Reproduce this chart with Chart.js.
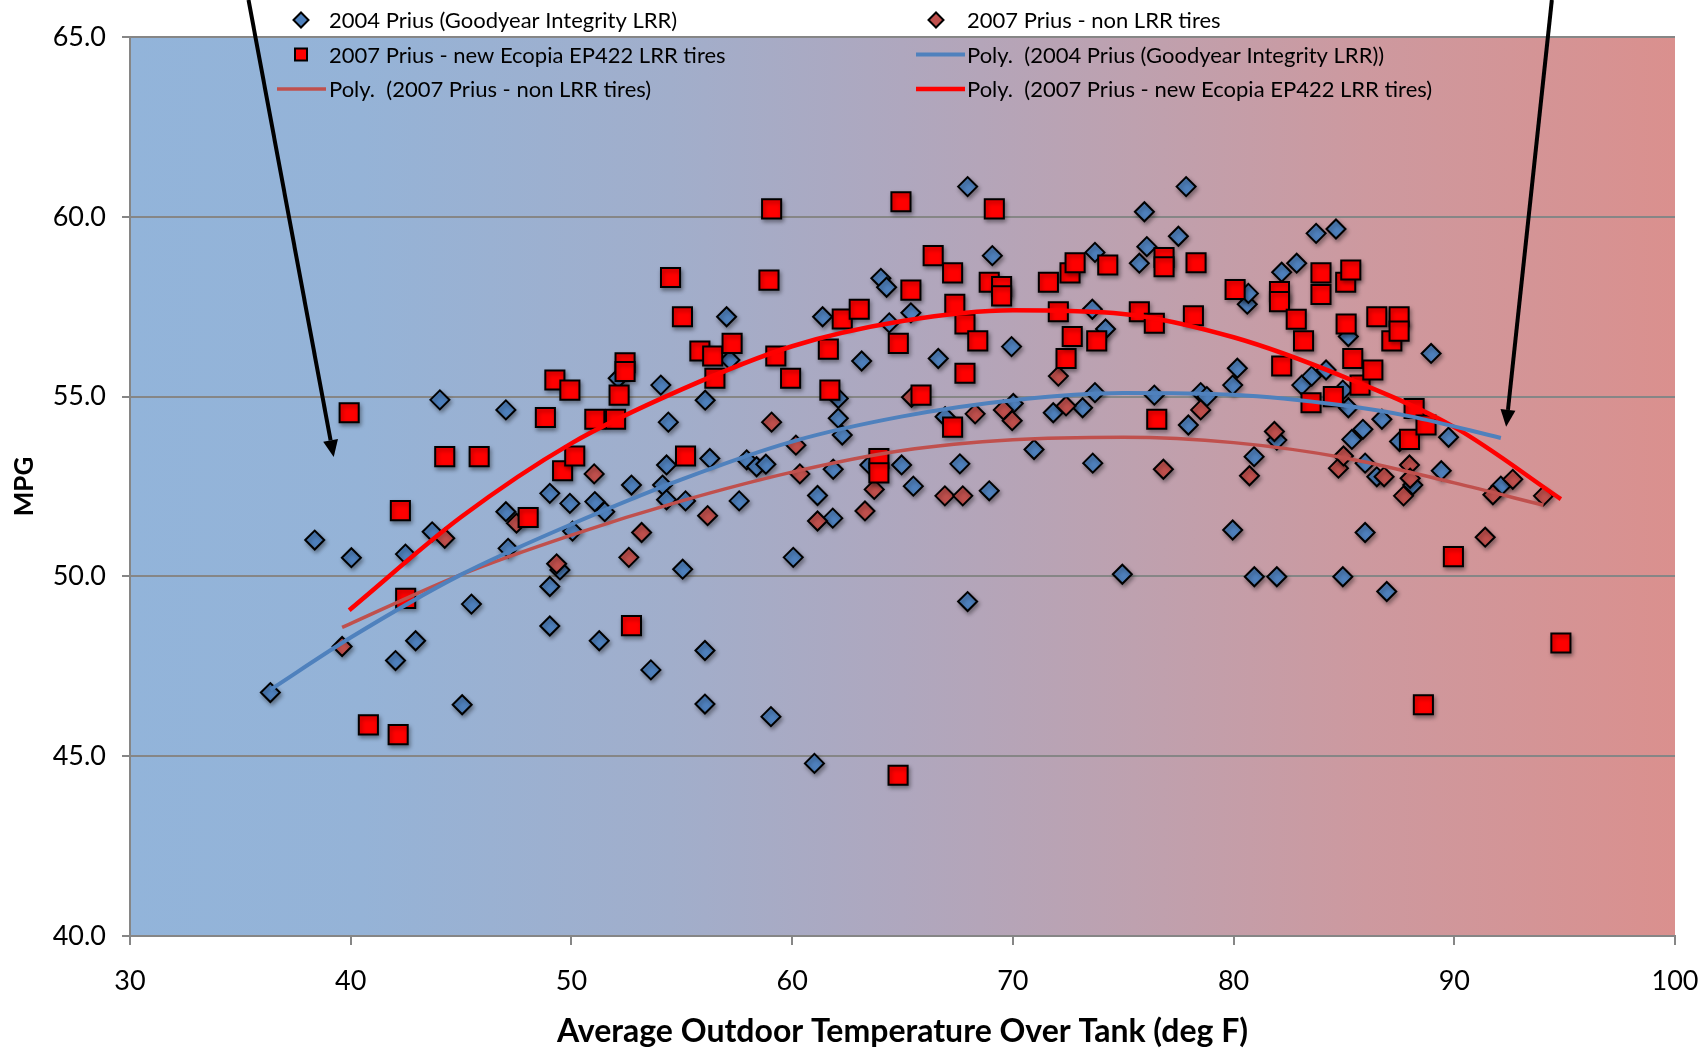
<!DOCTYPE html>
<html>
<head>
<meta charset="utf-8">
<script src="https://cdn.jsdelivr.net/npm/chart.js@4.4.1/dist/chart.umd.min.js"></script>
<style>
html,body{margin:0;padding:0;background:#fff;}
#wrap{width:1703px;height:1048px;position:relative;}
</style>
</head>
<body>
<div id="wrap"><canvas id="c"></canvas></div>
<script>
// ---------- DATA ----------
const seriesNames = [
  "2004 Prius (Goodyear Integrity LRR)",
  "2007 Prius - non LRR tires",
  "2007 Prius - new Ecopia EP422 LRR tires",
  "Poly.  (2004 Prius (Goodyear Integrity LRR))",
  "Poly.  (2007 Prius - non LRR tires)",
  "Poly.  (2007 Prius - new Ecopia EP422 LRR tires)"
];
const xTitle = "Average Outdoor Temperature Over Tank (deg F)";
const yTitle = "MPG";

const x2004 = [36.36,38.37,40.03,42.03,42.48,42.94,43.69,44.04,45.05,45.47,
  47.03,47.03,47.13,49.02,49.02,49.02,49.48,49.93,50.05,51.06,
  51.51,51.26,52.12,52.72,53.60,54.05,54.13,54.31,54.31,54.39,
  55.17,55.04,56.06,56.27,56.05,56.05,57.03,57.18,57.60,57.94,
  58.39,58.81,59.04,60.05,61.01,61.15,61.38,61.84,61.86,62.09,
  62.09,62.27,63.15,63.52,64.02,64.28,64.40,64.96,65.38,65.49,
  66.62,66.93,67.60,67.95,67.95,68.93,69.07,69.94,70.02,70.96,
  71.83,73.16,73.60,73.62,73.72,73.72,74.20,74.96,75.73,75.96,
  76.07,76.41,77.50,77.85,77.95,78.51,78.79,79.96,79.96,80.17,
  80.62,80.67,80.93,80.94,81.96,81.96,82.18,82.86,83.09,83.54,
  83.74,84.19,84.64,84.95,84.95,85.20,85.20,85.36,85.86,85.96,
  85.96,86.49,86.72,86.94,87.52,88.12,88.95,89.41,89.74,92.11];
const y2004 = [46.77,51.01,50.52,47.66,50.62,48.21,51.24,54.91,46.43,49.23,
  54.63,51.80,50.78,52.31,49.72,48.62,50.18,52.03,51.26,52.08,
  51.80,48.21,55.51,52.54,47.40,55.32,52.54,52.13,53.10,54.29,
  52.10,50.20,54.90,53.28,47.94,46.45,57.22,56.02,52.10,53.24,
  53.05,53.12,46.10,50.53,44.80,52.25,57.22,51.62,52.98,54.95,
  54.40,53.93,55.99,53.10,58.29,58.04,57.05,53.10,57.33,52.51,
  56.06,54.44,53.13,60.84,49.30,52.38,58.92,56.39,54.81,53.53,
  54.55,54.69,57.43,53.15,59.01,55.11,56.88,50.06,58.71,60.14,
  59.17,55.04,59.46,60.84,54.21,55.11,55.00,55.32,51.29,55.79,
  57.57,57.87,53.33,49.99,53.79,49.99,58.46,58.71,55.32,55.57,
  59.54,55.74,59.66,55.18,49.99,54.69,56.67,53.81,54.09,53.15,
  51.22,52.77,54.37,49.58,53.75,52.54,56.20,52.94,53.87,52.51];

const xNonLRR = [39.61,44.26,47.51,49.33,51.03,52.60,53.18,56.17,59.07,60.17,
  60.35,61.15,63.30,63.72,65.41,66.92,67.73,68.29,69.57,69.97,
  72.06,72.41,76.82,78.51,80.72,81.85,84.75,84.98,86.82,87.70,
  87.97,88.00,91.40,91.75,92.65,94.04];
const yNonLRR = [48.05,51.06,51.48,50.35,52.85,50.53,51.22,51.69,54.29,53.65,
  52.85,51.54,51.82,52.42,54.98,52.24,52.24,54.52,54.63,54.33,
  55.57,54.74,52.98,54.63,52.80,54.03,53.01,53.35,52.77,52.24,
  53.10,52.73,51.09,52.27,52.70,52.24];

const xEcopia = [39.93,40.80,42.15,42.25,42.49,44.26,45.82,48.04,48.82,49.25,
  49.60,49.93,50.15,51.06,52.00,52.16,52.43,52.43,52.72,54.49,
  55.03,55.17,55.82,56.40,56.50,57.28,58.95,59.07,59.26,59.93,
  61.64,61.71,62.27,63.04,63.93,63.93,64.80,64.81,64.93,65.38,
  65.84,66.39,67.27,67.27,67.37,67.83,67.83,68.41,68.93,69.16,
  69.49,69.49,71.61,72.06,72.41,72.59,72.69,72.82,73.80,74.30,
  75.73,76.41,76.52,76.85,76.85,78.18,78.30,80.07,82.08,82.08,
  82.18,82.84,83.17,83.51,83.96,83.96,84.52,85.08,85.31,85.10,
  85.40,85.73,86.31,86.49,87.17,87.50,87.50,87.97,88.18,88.72,
  88.60,89.96,94.83];
const yEcopia = [54.55,45.87,45.60,51.83,49.39,53.33,53.33,51.64,54.42,55.46,
  52.94,55.18,53.35,54.37,54.37,55.04,55.94,55.70,48.63,58.31,
  57.22,53.35,56.27,56.13,55.51,56.48,58.24,60.22,56.13,55.51,
  56.32,55.18,57.16,57.43,53.28,52.88,44.47,56.48,60.42,57.96,
  55.04,58.92,58.44,54.15,57.57,57.02,55.65,56.55,58.18,60.22,
  58.06,57.80,58.18,57.36,56.06,58.44,56.67,58.72,56.55,58.66,
  57.36,57.04,54.37,58.87,58.61,57.25,58.72,57.98,57.92,57.64,
  55.85,57.15,56.55,54.83,58.44,57.84,55.00,58.18,58.52,57.02,
  56.06,55.32,55.74,57.22,56.55,57.22,56.82,53.81,54.67,54.21,
  46.43,50.55,48.15];

// trend lines
const trendX2004 = [36.36,40,45,50,55,60,65,70,75,80,85,88,92.11];
const trendY2004 = [46.85,48.30,50.05,51.45,52.70,53.75,54.45,54.90,55.10,55.05,54.75,54.45,53.85];
const trendXNon = [39.61,45,50,55,60,65,70,75,80,85,90,94.04];
const trendYNon = [48.58,50.05,51.15,52.10,52.90,53.50,53.80,53.87,53.72,53.30,52.60,51.98];
const trendXEco = [39.93,45,50,55,60,65,70,75,80,85,90,94.83];
const trendYEco = [49.06,51.65,53.70,55.20,56.40,57.10,57.40,57.30,56.65,55.55,54.15,52.15];

// axis ticks
const xTicks = [30,40,50,60,70,80,90,100];
const yTicks = [40,45,50,55,60,65];

// annotation arrows (data coordinates)
const arrowFromX = [35.37, 94.42];
const arrowFromY = [66.03, 66.03];
const arrowToX = [39.23, 92.35];
const arrowToY = [53.32, 54.16];

// ---------- BUILD ----------
const pts = (xs, ys) => xs.map((v, i) => ({x: v, y: ys[i]}));
const FONT = 'Lato';
Chart.defaults.font.family = FONT;

const bgPlugin = {
  id: 'bg',
  beforeDraw(chart) {
    const {ctx, chartArea: a} = chart;
    ctx.save();
    ctx.fillStyle = '#fff';
    ctx.fillRect(0, 0, chart.width, chart.height);
    const g = ctx.createLinearGradient(a.left, 0, a.right, 0);
    g.addColorStop(0, 'rgb(146,180,218)');
    g.addColorStop(0.15, 'rgb(149,179,215)');
    g.addColorStop(0.35, 'rgb(161,174,203)');
    g.addColorStop(0.5, 'rgb(175,167,190)');
    g.addColorStop(0.65, 'rgb(190,161,175)');
    g.addColorStop(0.8, 'rgb(205,153,159)');
    g.addColorStop(1, 'rgb(218,144,142)');
    ctx.fillStyle = g;
    ctx.fillRect(a.left, a.top, a.right - a.left, a.bottom - a.top);
    ctx.restore();
  }
};

const shadowPlugin = {
  id: 'markerShadow',
  beforeDatasetDraw(chart, args) {
    if (args.index > 2) return;
    const ctx = chart.ctx;
    ctx.save();
    ctx.shadowColor = 'rgba(0,0,0,0.35)';
    ctx.shadowBlur = 4;
    ctx.shadowOffsetX = 1.5;
    ctx.shadowOffsetY = 2.5;
  },
  afterDatasetDraw(chart, args) {
    if (args.index > 2) return;
    chart.ctx.restore();
  }
};

function drawMarker(ctx, type, cx, cy, fill) {
  ctx.save();
  ctx.fillStyle = fill;
  ctx.strokeStyle = '#000';
  ctx.lineWidth = 2;
  ctx.beginPath();
  if (type === 'diamond') {
    const r = 7.5;
    ctx.moveTo(cx - r, cy); ctx.lineTo(cx, cy - r); ctx.lineTo(cx + r, cy); ctx.lineTo(cx, cy + r); ctx.closePath();
  } else {
    const s = 6;
    ctx.rect(cx - s, cy - s, 2 * s, 2 * s);
  }
  ctx.fill(); ctx.stroke();
  ctx.restore();
}

const legendPlugin = {
  id: 'excelLegend',
  afterDraw(chart) {
    const ctx = chart.ctx;
    const rowsY = [20, 54.5, 89];
    const markX = [301, 936];
    const lineX = [[277, 326], [916, 965]];
    const textX = [329, 967];
    ctx.save();
    ctx.font = '22px ' + FONT;
    ctx.fillStyle = '#000';
    ctx.textBaseline = 'middle';
    ctx.textAlign = 'left';
    chart.data.datasets.forEach((ds, i) => {
      const row = Math.floor(i / 2), col = i % 2;
      const y = rowsY[row];
      if (ds.showLine) {
        ctx.save();
        ctx.strokeStyle = ds.borderColor;
        ctx.lineWidth = ds.borderWidth;
        ctx.beginPath();
        ctx.moveTo(lineX[col][0], y); ctx.lineTo(lineX[col][1], y);
        ctx.stroke();
        ctx.restore();
      } else {
        drawMarker(ctx, ds.pointStyle === 'rectRot' ? 'diamond' : 'square', markX[col], y, ds.backgroundColor);
      }
      ctx.fillStyle = '#000';
      ctx.fillText(ds.label, textX[col], y + 1);
    });
    ctx.restore();
  }
};

const arrowPlugin = {
  id: 'arrows',
  afterDraw(chart) {
    const {ctx, scales: {x, y}} = chart;
    ctx.save();
    ctx.strokeStyle = '#000';
    ctx.fillStyle = '#000';
    ctx.lineWidth = 4;
    for (let i = 0; i < arrowFromX.length; i++) {
      const x1 = x.getPixelForValue(arrowFromX[i]), y1 = y.getPixelForValue(arrowFromY[i]);
      const x2 = x.getPixelForValue(arrowToX[i]), y2 = y.getPixelForValue(arrowToY[i]);
      const ang = Math.atan2(y2 - y1, x2 - x1);
      const head = 17, hw = 7.5;
      const bx = x2 - head * Math.cos(ang), by = y2 - head * Math.sin(ang);
      ctx.beginPath(); ctx.moveTo(x1, y1); ctx.lineTo(bx, by); ctx.stroke();
      ctx.beginPath();
      ctx.moveTo(x2, y2);
      ctx.lineTo(bx + hw * Math.sin(ang), by - hw * Math.cos(ang));
      ctx.lineTo(bx - hw * Math.sin(ang), by + hw * Math.cos(ang));
      ctx.closePath(); ctx.fill();
    }
    ctx.restore();
  }
};

const scatterDs = (label, xs, ys, style, fill, radius, order) => ({
  label, data: pts(xs, ys), pointStyle: style, backgroundColor: fill,
  borderColor: '#000', pointBorderWidth: 2, borderWidth: 2, pointRadius: radius,
  pointHoverRadius: radius, showLine: false, order
});
const trendDs = (label, xs, ys, color, width) => ({
  label, data: pts(xs, ys), borderColor: color, backgroundColor: color, borderWidth: width,
  pointRadius: 0, showLine: true, tension: 0.4, cubicInterpolationMode: 'monotone', order: 0
});

new Chart(document.getElementById('c'), {
  type: 'scatter',
  data: {
    datasets: [
      scatterDs(seriesNames[0], x2004, y2004, 'rectRot', '#4f81bd', 9.5, 3),
      scatterDs(seriesNames[1], xNonLRR, yNonLRR, 'rectRot', '#c0504d', 9.5, 2),
      scatterDs(seriesNames[2], xEcopia, yEcopia, 'rect', '#ff0000', 13.5, 1),
      trendDs(seriesNames[3], trendX2004, trendY2004, '#4f81bd', 4),
      trendDs(seriesNames[4], trendXNon, trendYNon, '#c0504d', 3.5),
      trendDs(seriesNames[5], trendXEco, trendYEco, '#ff0000', 4.5)
    ]
  },
  options: {
    responsive: true,
    maintainAspectRatio: false,
    devicePixelRatio: 1,
    animation: false,
    layout: {padding: {left: 0, right: 28, top: 37, bottom: 0}},
    plugins: {legend: {display: false}, tooltip: {enabled: false}},
    scales: {
      x: {
        type: 'linear', min: 30, max: 100,
        afterBuildTicks(s) { s.ticks = xTicks.map(v => ({value: v})); },
        afterFit(s) { s.height = 112; s.paddingLeft = 0; s.paddingRight = 0; },
        ticks: {color: '#000', font: {size: 27}, padding: 20, maxRotation: 0},
        grid: {drawOnChartArea: false, drawTicks: true, tickLength: 9, color: '#868686', lineWidth: 2},
        border: {color: '#868686', width: 2},
        title: {display: true, text: xTitle, color: '#000', font: {size: 32, weight: 'bold'}, padding: {top: 0, bottom: -3}}
      },
      y: {
        type: 'linear', min: 40, max: 65,
        afterBuildTicks(s) { s.ticks = yTicks.map(v => ({value: v})); },
        afterFit(s) { s.width = 130; },
        ticks: {color: '#000', font: {size: 27}, padding: 16, callback: v => Number(v).toFixed(1)},
        grid: {drawTicks: true, tickLength: 8, color: '#868686', lineWidth: 2},
        border: {color: '#868686', width: 2},
        title: {display: true, text: yTitle, color: '#000', font: {size: 26, weight: 'bold'}, padding: {top: 9, bottom: 0}}
      }
    }
  },
  plugins: [bgPlugin, shadowPlugin, legendPlugin, arrowPlugin]
});
</script>
</body>
</html>
